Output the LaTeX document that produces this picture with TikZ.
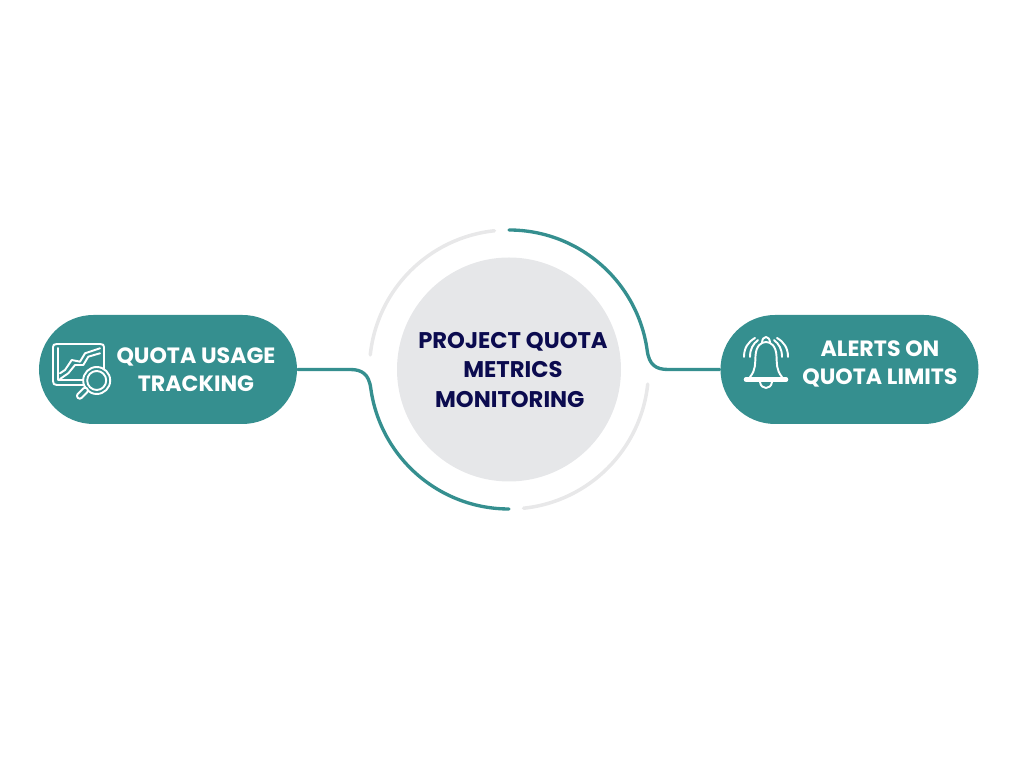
\documentclass[tikz,border=0pt]{standalone}
\usepackage{fontspec}
\setmainfont{Poppins}
\usepackage{tikz}
\usetikzlibrary{shapes.misc}
\definecolor{teal1}{HTML}{358F8F}
\definecolor{gray1}{HTML}{E6E7E9}
\definecolor{ring1}{HTML}{E8E8E9}
\definecolor{navy1}{HTML}{0B0B4F}

\begin{document}
\begin{tikzpicture}[line cap=round,line join=round]
  \tikzstyle{pill}=[rounded rectangle,fill=teal1,minimum width=2.58cm,minimum height=1.09cm,inner sep=0pt]
  \tikzstyle{hub}=[circle,fill=gray1,minimum size=2.24cm,inner sep=0pt]
  \tikzstyle{pilltext}=[align=center,text=white,font=\fontsize{6.3}{8}\selectfont\bfseries]
  \tikzstyle{hubtext}=[align=center,text=navy1,font=\fontsize{6.45}{8.3}\selectfont\bfseries]
  \tikzstyle{tealline}=[draw=teal1,line width=0.95pt]
  \tikzstyle{ringline}=[draw=ring1,line width=1pt]
  \tikzstyle{iconline}=[draw=white,line width=0.55pt]

  \useasboundingbox (0,0) rectangle (10.24,7.68);

  \node[hub]  (hub) at (5.09, 3.985)   {};
  \node[pill] (usage) at (1.68, 3.985)  {};
  \node[pill] (alerts) at (8.495, 3.985) {};

  \node[hubtext]  (hublabel) at (5.13, 3.98)   {PROJECT QUOTA\\METRICS\\MONITORING\hspace*{0.28em}};
  \node[pilltext] (usagelabel) at (1.96, 3.98) {QUOTA USAGE\\TRACKING};
  \node[pilltext] (alertslabel) at (8.80, 4.04) {ALERTS ON\\QUOTA LIMITS};

  % grey ring pieces
  \draw[ringline] ([shift={(96:1.395)}]hub.center) arc (96:174:1.395);
  \draw[ringline] ([shift={(-6:1.395)}]hub.center) arc (-6:-84:1.395);

  % teal connectors
  \draw[tealline] (alerts.west) -- (6.68, 3.985)
     .. controls (6.56, 3.985) and (6.49, 4.03) .. ([shift={(8:1.395)}]hub.center)
     arc (8:90:1.395);
  \draw[tealline] (usage.east) -- (3.50, 3.985)
     .. controls (3.62, 3.985) and (3.69, 3.94) .. ([shift={(188:1.395)}]hub.center)
     arc (188:270:1.395);

  % chart icon
  \draw[iconline] (0.87, 3.83) -- (0.57, 3.83) .. controls (0.54, 3.83) and (0.53, 3.84) .. (0.53, 3.87)
     -- (0.53, 4.21) .. controls (0.53, 4.23) and (0.54, 4.24) .. (0.57, 4.24)
     -- (1.00, 4.24) .. controls (1.03, 4.24) and (1.04, 4.23) .. (1.04, 4.21) -- (1.04, 3.98);
  \draw[iconline] (0.583, 4.20) -- (0.583, 3.88) -- (0.85, 3.88);
  \draw[iconline] (0.60, 3.947) -- (0.65, 3.98) -- (0.717, 4.08) -- (0.80, 4.063) -- (0.85, 4.147) -- (1.00, 4.197);
  \draw[iconline] (0.60, 3.89) -- (0.683, 3.947) -- (0.75, 4.03) -- (0.833, 4.03) -- (0.883, 4.113) -- (1.00, 4.147);
  \draw[iconline,fill=teal1] (0.967, 3.875) circle (0.135);
  \draw[iconline] (0.967, 3.875) circle (0.095);
  \draw[iconline,fill=teal1,rounded corners=0.025cm,rotate around={45:(0.824,3.747)}] (0.76,3.72) rectangle (0.89,3.775);

  % bell icon
  \draw[iconline] (7.50, 3.91) .. controls (7.56, 3.98) and (7.55, 4.05) .. (7.555, 4.12)
     .. controls (7.56, 4.22) and (7.61, 4.26) .. (7.66, 4.26)
     .. controls (7.71, 4.26) and (7.76, 4.22) .. (7.765, 4.12)
     .. controls (7.77, 4.05) and (7.76, 3.98) .. (7.82, 3.91);
  \draw[iconline] (7.62, 4.25) .. controls (7.62, 4.33) and (7.70, 4.33) .. (7.70, 4.25);
  \draw[draw=white,line width=1.3pt] (7.46, 3.885) -- (7.86, 3.885);
  \draw[iconline] (7.60, 3.86) .. controls (7.61, 3.78) and (7.71, 3.78) .. (7.72, 3.86);
  \draw[iconline] (7.50, 4.11) .. controls (7.50, 4.19) and (7.53, 4.24) .. (7.58, 4.28);
  \draw[iconline] (7.44, 4.11) .. controls (7.44, 4.20) and (7.48, 4.26) .. (7.55, 4.30);
  \draw[iconline] (7.82, 4.11) .. controls (7.82, 4.19) and (7.79, 4.24) .. (7.74, 4.28);
  \draw[iconline] (7.88, 4.11) .. controls (7.88, 4.20) and (7.84, 4.26) .. (7.77, 4.30);
\end{tikzpicture}
\end{document}
